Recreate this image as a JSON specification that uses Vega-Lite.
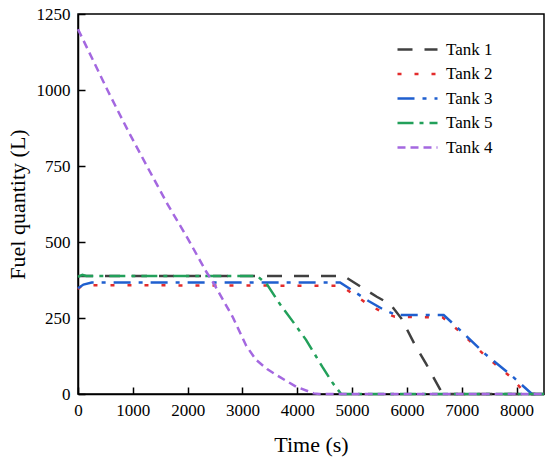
{
  "$schema": "https://vega.github.io/schema/vega-lite/v6.json",
  "width": 466,
  "height": 380,
  "autosize": {"type": "none"},
  "padding": {"left": 78, "top": 14, "right": 6, "bottom": 68},
  "background": "white",
  "config": {
    "font": "Liberation Serif",
    "view": {"stroke": "black", "strokeWidth": 1.5},
    "axis": {"grid": false, "domainColor": "black", "domainWidth": 1.5, "tickColor": "black", "tickWidth": 1.5, "labelColor": "black", "titleColor": "black", "labelFont": "Liberation Serif", "titleFont": "Liberation Serif", "labelFontSize": 17, "titleFontSize": 22, "titleFontWeight": "normal"}
  },
  "data": {"values": [
    {"tank": "Tank 1", "t": 0, "q": 388},
    {"tank": "Tank 1", "t": 4850, "q": 388},
    {"tank": "Tank 1", "t": 5200, "q": 348},
    {"tank": "Tank 1", "t": 5450, "q": 320},
    {"tank": "Tank 1", "t": 5700, "q": 295},
    {"tank": "Tank 1", "t": 5900, "q": 248},
    {"tank": "Tank 1", "t": 6130, "q": 167},
    {"tank": "Tank 1", "t": 6350, "q": 99},
    {"tank": "Tank 1", "t": 6650, "q": 0},
    {"tank": "Tank 1", "t": 8500, "q": 0},
    {"tank": "Tank 2", "t": 0, "q": 345},
    {"tank": "Tank 2", "t": 80, "q": 358},
    {"tank": "Tank 2", "t": 4800, "q": 356},
    {"tank": "Tank 2", "t": 5250, "q": 300},
    {"tank": "Tank 2", "t": 5520, "q": 272},
    {"tank": "Tank 2", "t": 5780, "q": 254},
    {"tank": "Tank 2", "t": 6650, "q": 252},
    {"tank": "Tank 2", "t": 7000, "q": 200},
    {"tank": "Tank 2", "t": 7430, "q": 125},
    {"tank": "Tank 2", "t": 7900, "q": 55},
    {"tank": "Tank 2", "t": 8170, "q": 0},
    {"tank": "Tank 2", "t": 8500, "q": 0},
    {"tank": "Tank 3", "t": 0, "q": 348},
    {"tank": "Tank 3", "t": 100, "q": 360},
    {"tank": "Tank 3", "t": 250, "q": 367},
    {"tank": "Tank 3", "t": 4780, "q": 367},
    {"tank": "Tank 3", "t": 5300, "q": 306},
    {"tank": "Tank 3", "t": 5550, "q": 280},
    {"tank": "Tank 3", "t": 5800, "q": 260},
    {"tank": "Tank 3", "t": 6670, "q": 260},
    {"tank": "Tank 3", "t": 7000, "q": 205},
    {"tank": "Tank 3", "t": 7450, "q": 128},
    {"tank": "Tank 3", "t": 7930, "q": 57},
    {"tank": "Tank 3", "t": 8280, "q": 0},
    {"tank": "Tank 3", "t": 8500, "q": 0},
    {"tank": "Tank 5", "t": 0, "q": 385},
    {"tank": "Tank 5", "t": 80, "q": 392},
    {"tank": "Tank 5", "t": 150, "q": 388},
    {"tank": "Tank 5", "t": 3270, "q": 388},
    {"tank": "Tank 5", "t": 3450, "q": 360},
    {"tank": "Tank 5", "t": 3670, "q": 299},
    {"tank": "Tank 5", "t": 3900, "q": 243},
    {"tank": "Tank 5", "t": 4160, "q": 178},
    {"tank": "Tank 5", "t": 4455, "q": 90},
    {"tank": "Tank 5", "t": 4650, "q": 35},
    {"tank": "Tank 5", "t": 4800, "q": 0},
    {"tank": "Tank 5", "t": 8500, "q": 0},
    {"tank": "Tank 4", "t": 0, "q": 1200},
    {"tank": "Tank 4", "t": 550, "q": 995},
    {"tank": "Tank 4", "t": 915, "q": 865},
    {"tank": "Tank 4", "t": 1280, "q": 742},
    {"tank": "Tank 4", "t": 1640, "q": 622},
    {"tank": "Tank 4", "t": 2000, "q": 512},
    {"tank": "Tank 4", "t": 2340, "q": 402},
    {"tank": "Tank 4", "t": 2455, "q": 370},
    {"tank": "Tank 4", "t": 2820, "q": 254},
    {"tank": "Tank 4", "t": 3070, "q": 158},
    {"tank": "Tank 4", "t": 3250, "q": 112},
    {"tank": "Tank 4", "t": 3450, "q": 82},
    {"tank": "Tank 4", "t": 3670, "q": 57},
    {"tank": "Tank 4", "t": 3980, "q": 24},
    {"tank": "Tank 4", "t": 4300, "q": 2},
    {"tank": "Tank 4", "t": 4400, "q": 0},
    {"tank": "Tank 4", "t": 8500, "q": 0}
  ]},
  "mark": {"type": "line", "strokeWidth": 2.5},
  "encoding": {
    "x": {"field": "t", "type": "quantitative", "scale": {"domain": [0, 8500], "nice": false},
          "axis": {"orient": "bottom", "values": [0,1000,2000,3000,4000,5000,6000,7000,8000], "format": "d", "ticks": true, "tickSize": -7, "labelPadding": 15, "title": "Time (s)", "titlePadding": 16, "labelFlush": false}},
    "y": {"field": "q", "type": "quantitative", "scale": {"domain": [0, 1250], "nice": false},
          "axis": {"orient": "left", "values": [0,250,500,750,1000,1250], "format": "d", "ticks": true, "tickSize": -7, "labelPadding": 15, "title": "Fuel quantity (L)", "titlePadding": 7, "labelFlush": false}},
    "color": {"field": "tank", "type": "nominal",
              "scale": {"domain": ["Tank 1", "Tank 2", "Tank 3", "Tank 5", "Tank 4"], "range": ["#404040", "#e32b2b", "#1f5fcf", "#22a05a", "#a468e0"]},
              "legend": {"title": null, "orient": "none", "legendX": 331, "legendY": 27, "symbolType": "M-4,0L4,0", "symbolSize": 100, "symbolStrokeWidth": 2.5, "labelFontSize": 17, "labelFont": "Liberation Serif", "labelColor": "black", "rowPadding": 6.5, "labelOffset": 20, "padding": 0}},
    "strokeDash": {"field": "tank", "type": "nominal",
              "scale": {"domain": ["Tank 1", "Tank 2", "Tank 3", "Tank 5", "Tank 4"], "range": [[15, 12], [4, 13], [17, 8, 4, 8], [16, 6, 4, 6], [8, 5]]},
              "legend": {"title": null, "orient": "none", "legendX": 331, "legendY": 27, "symbolType": "M-4,0L4,0", "symbolSize": 100, "symbolStrokeWidth": 2.5, "labelFontSize": 17, "labelFont": "Liberation Serif", "labelColor": "black", "rowPadding": 6.5, "labelOffset": 20, "padding": 0}}
  }
}
